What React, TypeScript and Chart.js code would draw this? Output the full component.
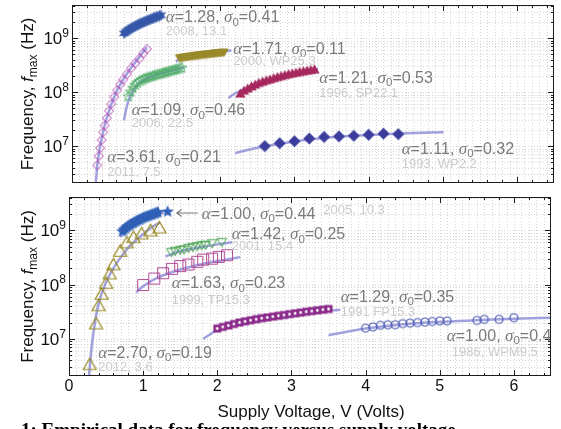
import React, { useEffect, useRef } from 'react';
import { Chart, registerables } from 'chart.js';

Chart.register(...registerables);

const SANS = '"Liberation Sans", Arial, sans-serif';
const SERIF = '"Liberation Serif", "Times New Roman", serif';
const FIT = 'rgba(125,125,210,0.72)';
const X_MIN = 0;
const X_MAX = 6.5;
const Y_MIN = 2.07e6;
const Y_MAX = 4.1e9;
const X_TICK_LABELS = [0, 1, 2, 3, 4, 5, 6];
const Y_TICK_EXPONENTS = [7, 8, 9];

// ---------- top panel ----------
const star2008V = [0.70, 0.72, 0.74, 0.76, 0.78, 0.80, 0.82, 0.84, 0.86, 0.88, 0.90, 0.92, 0.94, 0.96, 0.98, 1.00, 1.02, 1.04, 1.06, 1.08, 1.10, 1.12, 1.14, 1.16, 1.18, 1.20];
const star2008F = [1.22e9, 1.29e9, 1.34e9, 1.41e9, 1.45e9, 1.53e9, 1.57e9, 1.64e9, 1.68e9, 1.75e9, 1.79e9, 1.87e9, 1.90e9, 1.97e9, 2.01e9, 2.08e9, 2.12e9, 2.19e9, 2.23e9, 2.31e9, 2.35e9, 2.43e9, 2.47e9, 2.55e9, 2.59e9, 2.66e9];
const fit2008V = [0.69, 0.80, 0.95, 1.10, 1.24];
const fit2008F = [1.1e9, 1.45e9, 1.88e9, 2.3e9, 2.7e9];

const dia2011V = [0.34, 0.36, 0.38, 0.40, 0.42, 0.44, 0.47, 0.50, 0.53, 0.57, 0.61, 0.65, 0.69, 0.74, 0.80, 0.85, 0.91, 0.96, 1.01];
const dia2011F = [4.4e6, 6.5e6, 9.2e6, 1.3e7, 1.8e7, 2.4e7, 3.3e7, 4.5e7, 6.0e7, 8.2e7, 1.08e8, 1.38e8, 1.7e8, 2.15e8, 2.8e8, 3.4e8, 4.2e8, 5.2e8, 6.3e8];
const fit2011V = [0.322, 0.34, 0.37, 0.40, 0.45, 0.50, 0.60, 0.70, 0.80, 0.90, 1.01];
const fit2011F = [2.1e6, 4.2e6, 8.5e6, 1.35e7, 2.7e7, 4.5e7, 1.02e8, 1.8e8, 2.85e8, 4.3e8, 6.8e8];

const grn2006V = [0.76, 0.79, 0.82, 0.85, 0.88, 0.91, 0.94, 0.97, 1.00, 1.03, 1.06, 1.09, 1.12, 1.15, 1.18, 1.21, 1.24, 1.27, 1.30, 1.33, 1.36, 1.39, 1.42, 1.45, 1.48];
const grn2006F = [0.83e8, 1.0e8, 1.18e8, 1.35e8, 1.48e8, 1.58e8, 1.66e8, 1.74e8, 1.8e8, 1.86e8, 1.92e8, 1.98e8, 2.04e8, 2.1e8, 2.15e8, 2.2e8, 2.27e8, 2.33e8, 2.4e8, 2.46e8, 2.52e8, 2.58e8, 2.65e8, 2.72e8, 2.8e8];
const fit2006V = [0.70, 0.74, 0.78, 0.85, 0.95, 1.10, 1.30, 1.51];
const fit2006F = [3.0e7, 5.5e7, 8.0e7, 1.22e8, 1.62e8, 2.0e8, 2.4e8, 2.85e8];

const olv2000V = [1.45, 1.47, 1.49, 1.51, 1.53, 1.55, 1.57, 1.59, 1.61, 1.63, 1.65, 1.67, 1.69, 1.71, 1.73, 1.75, 1.77, 1.79, 1.81, 1.83, 1.85, 1.87, 1.89, 1.91, 1.93, 1.95, 1.97, 1.99, 2.01, 2.03, 2.05];
const olv2000F = [4.40e8, 4.46e8, 4.49e8, 4.56e8, 4.59e8, 4.65e8, 4.67e8, 4.74e8, 4.76e8, 4.82e8, 4.84e8, 4.90e8, 4.92e8, 4.98e8, 5.00e8, 5.06e8, 5.08e8, 5.14e8, 5.16e8, 5.22e8, 5.24e8, 5.30e8, 5.32e8, 5.38e8, 5.40e8, 5.46e8, 5.48e8, 5.53e8, 5.56e8, 5.60e8, 5.65e8];
const fit2000V = [1.40, 1.50, 1.70, 1.90, 2.15];
const fit2000F = [3.7e8, 4.2e8, 4.8e8, 5.3e8, 5.9e8];

const crm1996V = [2.27, 2.32, 2.37, 2.42, 2.47, 2.52, 2.57, 2.62, 2.67, 2.72, 2.77, 2.82, 2.87, 2.92, 2.97, 3.02, 3.07, 3.12, 3.17, 3.22, 3.27];
const crm1996F = [0.90e8, 1.02e8, 1.12e8, 1.22e8, 1.32e8, 1.42e8, 1.50e8, 1.58e8, 1.65e8, 1.74e8, 1.82e8, 1.90e8, 1.98e8, 2.06e8, 2.13e8, 2.20e8, 2.27e8, 2.34e8, 2.40e8, 2.46e8, 2.52e8];
const fit1996V = [2.11, 2.20, 2.40, 2.70, 3.00, 3.32];
const fit1996F = [7.8e7, 9.5e7, 1.25e8, 1.7e8, 2.15e8, 2.7e8];

const dia1993V = [2.6, 2.8, 3.0, 3.2, 3.4, 3.6, 3.8, 4.0, 4.2, 4.4];
const dia1993F = [1.0e7, 1.13e7, 1.23e7, 1.38e7, 1.48e7, 1.51e7, 1.55e7, 1.62e7, 1.7e7, 1.66e7];
const fit1993V = [2.2, 2.5, 3.0, 3.5, 4.0, 4.5, 5.01];
const fit1993F = [7.4e6, 9.3e6, 1.22e7, 1.45e7, 1.6e7, 1.72e7, 1.8e7];

// ---------- bottom panel ----------
const star2005V = [0.72, 0.74, 0.76, 0.78, 0.80, 0.82, 0.84, 0.86, 0.88, 0.90, 0.92, 0.94, 0.96, 0.98, 1.00, 1.02, 1.04, 1.06, 1.08, 1.10, 1.12, 1.14, 1.16, 1.18, 1.20, 1.33];
const star2005F = [0.95e9, 1.02e9, 1.08e9, 1.14e9, 1.2e9, 1.26e9, 1.3e9, 1.35e9, 1.4e9, 1.45e9, 1.5e9, 1.55e9, 1.6e9, 1.65e9, 1.7e9, 1.74e9, 1.78e9, 1.83e9, 1.87e9, 1.91e9, 1.95e9, 2.0e9, 2.05e9, 2.1e9, 2.15e9, 2.2e9];
const fit2005V = [0.69, 0.80, 0.95, 1.10, 1.28];
const fit2005F = [7.5e8, 1.05e9, 1.4e9, 1.75e9, 2.1e9];

const tri2012V = [0.28, 0.365, 0.40, 0.44, 0.50, 0.55, 0.60, 0.69, 0.78, 0.87, 0.98, 1.10, 1.22];
const tri2012F = [3.2e6, 1.8e7, 3.9e7, 6.3e7, 1.0e8, 1.5e8, 2.2e8, 3.9e8, 5.6e8, 7.0e8, 8.2e8, 9.3e8, 1.05e9];
const fit2012V = [0.27, 0.30, 0.35, 0.40, 0.50, 0.60, 0.70, 0.80, 0.90, 1.00, 1.10, 1.23];
const fit2012F = [2.1e6, 6e6, 2.0e7, 4.5e7, 1.1e8, 2.0e8, 3.2e8, 4.8e8, 6.5e8, 8.5e8, 1.1e9, 1.4e9];

const grn2001V = [1.38, 1.43, 1.50, 1.55, 1.61, 1.67, 1.73, 1.79, 1.84, 1.93, 2.06];
const grn2001F = [4.1e8, 4.3e8, 4.5e8, 4.6e8, 4.9e8, 5.1e8, 5.3e8, 5.5e8, 5.6e8, 6.0e8, 6.3e8];
const fit2001V = [1.30, 1.50, 1.75, 2.00, 2.20];
const fit2001F = [3.3e8, 4.1e8, 4.8e8, 5.5e8, 6.0e8];

const sq1999V = [1.00, 1.15, 1.27, 1.39, 1.50, 1.61, 1.73, 1.81, 1.93, 2.02, 2.13];
const sq1999F = [9.8e7, 1.29e8, 1.62e8, 1.95e8, 2.19e8, 2.34e8, 2.63e8, 2.88e8, 3.0e8, 3.24e8, 3.47e8];
const fit1999V = [0.905, 1.0, 1.2, 1.5, 1.8, 2.1, 2.31];
const fit1999F = [7.2e7, 9.3e7, 1.35e8, 1.9e8, 2.4e8, 2.85e8, 3.2e8];

const sq1991V = [2.0, 2.075, 2.15, 2.225, 2.3, 2.375, 2.45, 2.525, 2.6, 2.675, 2.75, 2.825, 2.9, 2.975, 3.05, 3.125, 3.2, 3.275, 3.35, 3.425, 3.5];
const sq1991F = [1.55e7, 1.66e7, 1.76e7, 1.88e7, 2.0e7, 2.1e7, 2.2e7, 2.3e7, 2.4e7, 2.48e7, 2.57e7, 2.66e7, 2.75e7, 2.85e7, 2.95e7, 3.05e7, 3.16e7, 3.25e7, 3.35e7, 3.45e7, 3.55e7];
const fit1991V = [1.81, 2.0, 2.3, 2.7, 3.1, 3.66];
const fit1991F = [1.0e7, 1.45e7, 1.95e7, 2.5e7, 3.0e7, 3.45e7];

const cir1986V = [4.0, 4.1, 4.2, 4.3, 4.4, 4.5, 4.6, 4.7, 4.8, 4.9, 5.0, 5.1, 5.5, 5.6, 5.8, 6.0];
const cir1986F = [1.58e7, 1.66e7, 1.78e7, 1.82e7, 1.82e7, 1.91e7, 1.95e7, 2.0e7, 2.04e7, 2.09e7, 2.14e7, 2.14e7, 2.19e7, 2.29e7, 2.29e7, 2.45e7];
const fit1986V = [3.5, 3.8, 4.0, 4.5, 5.0, 5.5, 6.0, 6.5];
const fit1986F = [1.17e7, 1.4e7, 1.55e7, 1.85e7, 2.05e7, 2.2e7, 2.35e7, 2.45e7];

// ---------- annotations (positions in data coordinates: V, log10 f) ----------
type Ann = { v: number; lg: number; a: string; s: string; sub?: string; dy?: number; sdx?: number; arrowFrom?: number };
type Note = { v: number; lg: number; text: string };

const topAnns: Ann[] = [
  { v: 1.264, lg: 9.40, a: '1.28', s: '0.41', sub: '2008, 13.1', dy: 14 },
  { v: 2.175, lg: 8.815, a: '1.71', s: '0.11', sub: '2000, WP25.3', dy: 12.7 },
  { v: 3.335, lg: 8.278, a: '1.21', s: '0.53', sub: '1996, SP22.1', dy: 15 },
  { v: 4.446, lg: 6.963, a: '1.11', s: '0.32', sub: '1993, WP2.2', dy: 15.7 },
  { v: 0.805, lg: 7.672, a: '1.09', s: '0.46', sub: '2006, 22.5', dy: 12.7 },
  { v: 0.476, lg: 6.807, a: '3.61', s: '0.21', sub: '2011, 7.5', dy: 15 },
];
const botAnns: Ann[] = [
  { v: 1.790, lg: 9.319, a: '1.00', s: '0.44', arrowFrom: 1.452 },
  { v: 2.194, lg: 8.939, a: '1.42', s: '0.25', sub: '2001, 15.4', dy: 11.7 },
  { v: 1.385, lg: 8.037, a: '1.63', s: '0.23', sub: '1999, TP15.3', dy: 17 },
  { v: 3.664, lg: 7.785, a: '1.29', s: '0.35', sub: '1991 FP15.3', dy: 14.7 },
  { v: 5.094, lg: 7.066, a: '1.00', s: '0.41', sub: '1986, WPM9.5', dy: 15.7, sdx: 5 },
  { v: 0.395, lg: 6.759, a: '2.70', s: '0.19', sub: '2012, 3.6', dy: 14.3 },
];
const botNotes: Note[] = [{ v: 3.43, lg: 9.368, text: '2005, 10.3' }];

// ---------- helpers ----------
function mk(shape: string, color: string, r: number, fill: boolean, lw = 1, dot = false): HTMLCanvasElement {
  const s = Math.ceil(2 * r + lw + 2);
  const c = document.createElement('canvas');
  c.width = s;
  c.height = s;
  const g = c.getContext('2d') as CanvasRenderingContext2D;
  g.translate(s / 2, s / 2);
  g.beginPath();
  if (shape === 'circle') g.arc(0, 0, r, 0, Math.PI * 2);
  else if (shape === 'square') g.rect(-r, -r, 2 * r, 2 * r);
  else if (shape === 'diamond') {
    g.moveTo(0, -r); g.lineTo(r, 0); g.lineTo(0, r); g.lineTo(-r, 0); g.closePath();
  } else if (shape === 'triup') {
    g.moveTo(0, -r); g.lineTo(r * 0.866, r * 0.5); g.lineTo(-r * 0.866, r * 0.5); g.closePath();
  } else if (shape === 'tridown') {
    g.moveTo(0, r); g.lineTo(r * 0.866, -r * 0.5); g.lineTo(-r * 0.866, -r * 0.5); g.closePath();
  } else if (shape.startsWith('star')) {
    const n = Number(shape.slice(4));
    const ri = r * 0.45;
    for (let i = 0; i < 2 * n; i++) {
      const ang = -Math.PI / 2 + (i * Math.PI) / n;
      const rr = i % 2 ? ri : r;
      const px = rr * Math.cos(ang);
      const py = rr * Math.sin(ang);
      if (i === 0) g.moveTo(px, py); else g.lineTo(px, py);
    }
    g.closePath();
  }
  if (fill) { g.fillStyle = color; g.fill(); } else { g.strokeStyle = color; g.lineWidth = lw; g.stroke(); }
  if (dot) { g.beginPath(); g.arc(0, 0, 1.4, 0, Math.PI * 2); g.fillStyle = '#ffffff'; g.fill(); }
  return c;
}

const pts = (vs: number[], fs: number[]) => vs.map((v, i) => ({ x: v, y: fs[i] }));
const fitDs = (vs: number[], fs: number[]) => ({
  data: pts(vs, fs), showLine: true, borderColor: FIT, borderWidth: 2.5, pointRadius: 0,
  cubicInterpolationMode: 'monotone', order: 2,
});
const markDs = (vs: number[], fs: number[], style: HTMLCanvasElement) => ({
  data: pts(vs, fs), showLine: false, pointStyle: style, pointRadius: 4, order: 1,
});

function drawAlpha(ctx: CanvasRenderingContext2D, x: number, yc: number, a: string, s: string) {
  let cx = x;
  const base = yc + 5.6;
  const piece = (t: string, font: string, dy = 0) => {
    ctx.font = font;
    ctx.fillText(t, cx, base + dy);
    cx += ctx.measureText(t).width;
  };
  ctx.fillStyle = '#7b7b7b';
  ctx.textAlign = 'left';
  ctx.textBaseline = 'alphabetic';
  piece('α', `italic 17px ${SERIF}`);
  piece('=' + a + ', ', `16px ${SANS}`);
  piece('σ', `italic 17px ${SERIF}`);
  piece('0', `11.5px ${SANS}`, 3.5);
  piece('=' + s, `16px ${SANS}`);
}

function makePlugin(showX: boolean, anns: Ann[], notes: Note[]) {
  return {
    id: 'frameDeco',
    beforeDatasetsDraw(chart: any) {
      const { ctx, chartArea: ar } = chart;
      const xs = chart.scales.x;
      const ys = chart.scales.y;
      ctx.save();
      ctx.strokeStyle = '#d6d6d6';
      ctx.lineWidth = 1;
      ctx.setLineDash([1, 2]);
      ctx.beginPath();
      for (let i = 1; i < 65; i++) {
        const px = Math.round(xs.getPixelForValue(i / 10)) + 0.5;
        ctx.moveTo(px, ar.top);
        ctx.lineTo(px, ar.bottom);
      }
      for (let n = 6; n <= 9; n++) {
        for (let k = 1; k <= 9; k++) {
          const v = k * Math.pow(10, n);
          if (v <= Y_MIN || v >= Y_MAX) continue;
          const py = Math.round(ys.getPixelForValue(v)) + 0.5;
          ctx.moveTo(ar.left, py);
          ctx.lineTo(ar.right, py);
        }
      }
      ctx.stroke();
      ctx.restore();
    },
    afterDatasetsDraw(chart: any) {
      const { ctx, chartArea: ar } = chart;
      const xs = chart.scales.x;
      const ys = chart.scales.y;
      ctx.save();
      ctx.setLineDash([]);
      ctx.strokeStyle = '#1c1c1c';
      ctx.lineWidth = 1;
      ctx.strokeRect(ar.left + 0.5, ar.top + 0.5, ar.right - ar.left - 1, ar.bottom - ar.top - 1);
      ctx.beginPath();
      for (let i = 0; i <= 32; i++) {
        const px = Math.round(xs.getPixelForValue(i * 0.2)) + 0.5;
        const len = i % 5 === 0 ? 6 : 3;
        ctx.moveTo(px, ar.bottom); ctx.lineTo(px, ar.bottom - len);
        ctx.moveTo(px, ar.top); ctx.lineTo(px, ar.top + len);
      }
      for (let n = 6; n <= 9; n++) {
        for (let k = 1; k <= 9; k++) {
          const v = k * Math.pow(10, n);
          if (v < Y_MIN || v > Y_MAX) continue;
          const py = Math.round(ys.getPixelForValue(v)) + 0.5;
          const len = k === 1 ? 6 : 3;
          ctx.moveTo(ar.left, py); ctx.lineTo(ar.left + len, py);
          ctx.moveTo(ar.right, py); ctx.lineTo(ar.right - len, py);
        }
      }
      ctx.stroke();

      // y tick labels 10^n
      ctx.fillStyle = '#111';
      ctx.textBaseline = 'middle';
      ctx.textAlign = 'right';
      for (const e of Y_TICK_EXPONENTS) {
        const py = ys.getPixelForValue(Math.pow(10, e));
        ctx.font = `12px ${SANS}`;
        const ew = ctx.measureText(String(e)).width;
        ctx.fillText(String(e), ar.left - 3, py - 4.5);
        ctx.font = `17px ${SANS}`;
        ctx.fillText('10', ar.left - 3 - ew, py + 1.5);
      }

      // x tick labels
      if (showX) {
        ctx.textAlign = 'center';
        ctx.font = `16px ${SANS}`;
        for (const t of X_TICK_LABELS) {
          ctx.fillText(String(t), xs.getPixelForValue(t), ar.bottom + 11);
        }
        ctx.font = `17px ${SANS}`;
        ctx.fillText('Supply Voltage, V (Volts)', (ar.left + ar.right) / 2 + 1, ar.bottom + 36);
      }

      // y title
      ctx.save();
      ctx.translate(33, (ar.top + ar.bottom) / 2);
      ctx.rotate(-Math.PI / 2);
      ctx.textAlign = 'left';
      ctx.textBaseline = 'alphabetic';
      const parts: [string, string, number][] = [
        ['Frequency, ', `17px ${SANS}`, 0],
        ['f', `italic 17px ${SANS}`, 0],
        ['max', `12px ${SANS}`, 4],
        [' (Hz)', `17px ${SANS}`, 0],
      ];
      let total = 0;
      for (const p of parts) { ctx.font = p[1]; total += ctx.measureText(p[0]).width; }
      let cx = -total / 2;
      for (const p of parts) { ctx.font = p[1]; ctx.fillText(p[0], cx, p[2]); cx += ctx.measureText(p[0]).width; }
      ctx.restore();

      // annotations (clipped to plot area)
      ctx.save();
      ctx.beginPath();
      ctx.rect(ar.left + 1, ar.top + 1, ar.right - ar.left - 2, ar.bottom - ar.top - 2);
      ctx.clip();
      for (const an of anns) {
        const px = xs.getPixelForValue(an.v);
        const py = ys.getPixelForValue(Math.pow(10, an.lg));
        drawAlpha(ctx, px, py, an.a, an.s);
        if (an.sub) {
          ctx.font = `13px ${SANS}`;
          ctx.fillStyle = '#cccccc';
          ctx.textAlign = 'left';
          ctx.textBaseline = 'alphabetic';
          ctx.fillText(an.sub, px + (an.sdx || 0), py + (an.dy || 14) + 4.7);
        }
        if (an.arrowFrom !== undefined) {
          const ax = xs.getPixelForValue(an.arrowFrom);
          ctx.strokeStyle = '#7b7b7b';
          ctx.lineWidth = 1.1;
          ctx.beginPath();
          ctx.moveTo(ax, py); ctx.lineTo(px - 4, py);
          ctx.moveTo(ax + 5, py - 3.5); ctx.lineTo(ax, py); ctx.lineTo(ax + 5, py + 3.5);
          ctx.stroke();
        }
      }
      for (const nt of notes) {
        ctx.font = `13px ${SANS}`;
        ctx.fillStyle = '#cccccc';
        ctx.textAlign = 'left';
        ctx.textBaseline = 'middle';
        ctx.fillText(nt.text, xs.getPixelForValue(nt.v), ys.getPixelForValue(Math.pow(10, nt.lg)));
      }
      ctx.restore();
      ctx.restore();
    },
  };
}

function baseOptions(padding: any) {
  return {
    responsive: false,
    animation: false,
    events: [],
    layout: { padding },
    plugins: { legend: { display: false }, tooltip: { enabled: false } },
    scales: {
      x: { type: 'linear', min: X_MIN, max: X_MAX, display: false },
      y: { type: 'logarithmic', min: Y_MIN, max: Y_MAX, display: false },
    },
  };
}

export default function App() {
  const topRef = useRef<HTMLCanvasElement>(null);
  const botRef = useRef<HTMLCanvasElement>(null);

  useEffect(() => {
    const topDatasets = [
      fitDs(fit2008V, fit2008F),
      fitDs(fit2011V, fit2011F),
      fitDs(fit2006V, fit2006F),
      fitDs(fit2000V, fit2000F),
      fitDs(fit1996V, fit1996F),
      fitDs(fit1993V, fit1993F),
      markDs(star2008V, star2008F, mk('star6', '#3658aa', 6, true)),
      markDs(dia2011V, dia2011F, mk('diamond', '#b046b0', 4.5, false, 1)),
      markDs(grn2006V, grn2006F, mk('star5', '#45a860', 5.5, false, 0.9)),
      markDs(olv2000V, olv2000F, mk('tridown', '#9a8a2c', 5.5, true)),
      markDs(crm1996V, crm1996F, mk('triup', '#a6285e', 6, true)),
      markDs(dia1993V, dia1993F, mk('diamond', '#3c3c9c', 6, true)),
    ];
    const botDatasets = [
      fitDs(fit2005V, fit2005F),
      fitDs(fit2012V, fit2012F),
      fitDs(fit2001V, fit2001F),
      fitDs(fit1999V, fit1999F),
      fitDs(fit1991V, fit1991F),
      fitDs(fit1986V, fit1986F),
      markDs(star2005V, star2005F, mk('star5', '#3060b6', 6.5, true)),
      markDs(tri2012V, tri2012F, mk('triup', '#968820', 7.5, false, 1.2)),
      markDs(grn2001V, grn2001F, mk('tridown', '#40a04a', 5.5, false, 1)),
      markDs(sq1999V, sq1999F, mk('square', '#b04a96', 5.5, false, 1)),
      markDs(sq1991V, sq1991F, mk('square', '#8c2c8c', 4, true, 1, true)),
      markDs(cir1986V, cir1986F, mk('circle', '#5060b4', 4, false, 1.2)),
    ];
    const top = new Chart(topRef.current as HTMLCanvasElement, {
      type: 'scatter',
      data: { datasets: topDatasets as any },
      options: baseOptions({ left: 72, right: 7, top: 5, bottom: 7 }) as any,
      plugins: [makePlugin(false, topAnns, []) as any],
    });
    const bot = new Chart(botRef.current as HTMLCanvasElement, {
      type: 'scatter',
      data: { datasets: botDatasets as any },
      options: baseOptions({ left: 69, right: 10, top: 7, bottom: 53 }) as any,
      plugins: [makePlugin(true, botAnns, botNotes) as any],
    });
    return () => {
      top.destroy();
      bot.destroy();
    };
  }, []);

  return (
    <div style={{ position: 'fixed', left: 0, top: 0, width: 561, height: 429, overflow: 'hidden', background: '#fff' }}>
      <canvas ref={topRef} width={561} height={190} style={{ position: 'absolute', left: 0, top: 0, width: 561, height: 190 }} />
      <canvas ref={botRef} width={561} height={239} style={{ position: 'absolute', left: 0, top: 190, width: 561, height: 239 }} />
      <div
        style={{
          position: 'absolute', left: 21, top: 420, whiteSpace: 'nowrap',
          font: `bold 19px ${SERIF}`, lineHeight: '20px', color: '#000',
        }}
      >
        1: Empirical data for frequency versus supply voltage
      </div>
    </div>
  );
}
